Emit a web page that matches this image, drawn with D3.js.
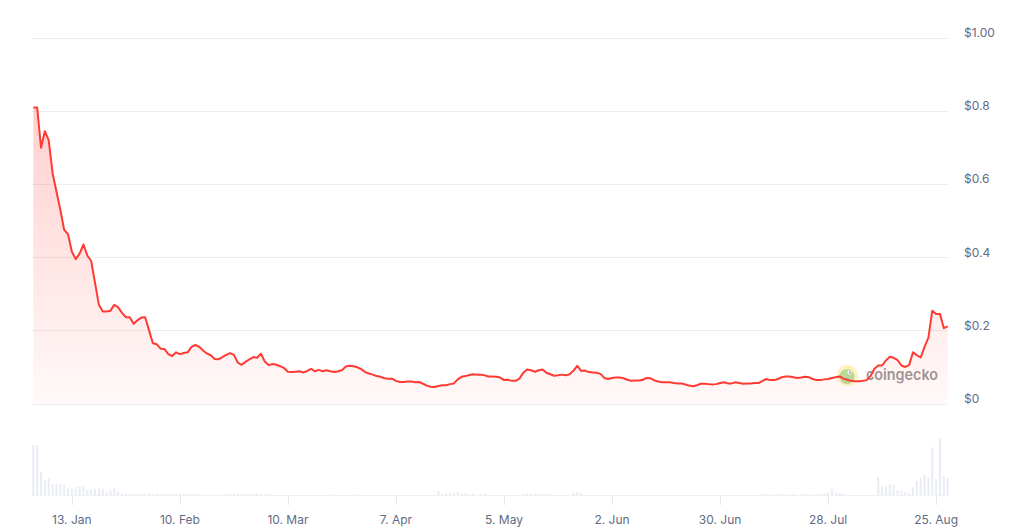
<!DOCTYPE html>
<html>
<head>
<meta charset="utf-8">
<script src="https://cdn.jsdelivr.net/npm/d3@7"></script>
<style>
  html, body { margin: 0; padding: 0; background: #ffffff; }
  svg { display: block; font-family: Inter, "Noto Sans", sans-serif; }
</style>
</head>
<body>
<svg id="chart" width="1024" height="531"></svg>
<script>
// ---- data ----
const startDate = "2025-01-03";   // first daily point
const endDate = "2025-08-28";     // last daily point
const prices = [
  0.81, 0.81, 0.70, 0.745, 0.72, 0.63, 0.58, 0.53, 0.475, 0.463,
  0.415, 0.395, 0.41, 0.435, 0.405, 0.39, 0.33, 0.27, 0.252, 0.252,
  0.254, 0.27, 0.263, 0.248, 0.236, 0.236, 0.218, 0.228, 0.235, 0.236,
  0.20, 0.165, 0.162, 0.150, 0.149, 0.135, 0.130, 0.140, 0.135, 0.138,
  0.140, 0.155, 0.160, 0.155, 0.145, 0.137, 0.132, 0.122, 0.121, 0.127,
  0.133, 0.138, 0.133, 0.112, 0.106, 0.114, 0.121, 0.127, 0.125, 0.136,
  0.115, 0.105, 0.108, 0.106, 0.102, 0.097, 0.087, 0.086, 0.087, 0.088,
  0.085, 0.089, 0.095, 0.088, 0.092, 0.088, 0.091, 0.088, 0.086, 0.088,
  0.091, 0.101, 0.103, 0.102, 0.099, 0.094, 0.086, 0.082, 0.079, 0.075,
  0.073, 0.069, 0.068, 0.068, 0.062, 0.059, 0.059, 0.060, 0.060, 0.058,
  0.059, 0.054, 0.049, 0.046, 0.045, 0.048, 0.050, 0.050, 0.053, 0.055,
  0.066, 0.073, 0.075, 0.078, 0.080, 0.079, 0.079, 0.077, 0.074, 0.074,
  0.073, 0.071, 0.064, 0.065, 0.062, 0.062, 0.068, 0.084, 0.093, 0.091,
  0.087, 0.091, 0.093, 0.084, 0.080, 0.076, 0.077, 0.079, 0.077, 0.080,
  0.090, 0.103, 0.089, 0.090, 0.086, 0.085, 0.084, 0.081, 0.070, 0.067,
  0.070, 0.071, 0.071, 0.069, 0.065, 0.062, 0.063, 0.063, 0.065, 0.070,
  0.069, 0.063, 0.060, 0.058, 0.058, 0.058, 0.056, 0.055, 0.055, 0.052,
  0.049, 0.047, 0.050, 0.054, 0.054, 0.053, 0.052, 0.053, 0.056, 0.058,
  0.055, 0.055, 0.058, 0.056, 0.054, 0.055, 0.055, 0.056, 0.056, 0.062,
  0.067, 0.064, 0.064, 0.067, 0.072, 0.074, 0.074, 0.072, 0.070, 0.071,
  0.073, 0.072, 0.067, 0.064, 0.064, 0.066, 0.067, 0.070, 0.072, 0.074,
  0.068, 0.065, 0.062, 0.061, 0.061, 0.062, 0.064, 0.075, 0.095, 0.104,
  0.104, 0.118, 0.128, 0.125, 0.119, 0.104, 0.100, 0.105, 0.140, 0.132,
  0.126, 0.155, 0.180, 0.254, 0.245, 0.245, 0.206, 0.211
];
const volumes = [
  500, 500, 233, 150, 173, 110, 110, 110, 100, 67,
  67, 83, 83, 90, 50, 57, 63, 67, 57, 33,
  50, 67, 33, 15, 12, 15, 12, 15, 12, 15,
  18, 12, 15, 12, 15, 12, 10, 12, 15, 15,
  12, 15, 12, 10, 3, 0, 3, 0, 3, 0,
  12, 12, 15, 12, 12, 15, 12, 12, 15, 12,
  10, 12, 0, 0, 0, 0, 0, 0, 0, 0,
  0, 0, 0, 0, 0, 0, 0, 8, 0, 0,
  0, 0, 0, 8, 0, 0, 0, 0, 0, 0,
  0, 0, 0, 0, 0, 0, 0, 0, 0, 0,
  0, 0, 0, 0, 0, 40, 10, 20, 15, 25,
  30, 15, 20, 10, 15, 0, 10, 15, 0, 0,
  0, 0, 0, 0, 0, 0, 0, 12, 15, 12,
  15, 12, 15, 12, 10, 0, 0, 0, 0, 0,
  25, 30, 25, 0, 0, 0, 0, 0, 0, 0,
  0, 0, 0, 0, 0, 0, 0, 0, 0, 0,
  0, 0, 0, 0, 0, 0, 0, 0, 0, 0,
  0, 0, 0, 0, 0, 0, 0, 0, 0, 0,
  0, 0, 0, 0, 0, 0, 0, 0, 0, 8,
  10, 8, 0, 8, 10, 0, 8, 10, 0, 8,
  10, 8, 0, 5, 15, 20, 30, 57, 25, 20,
  15, 0, 0, 0, 0, 0, 0, 0, 0, 180,
  83, 90, 110, 100, 50, 40, 27, 17, 77, 143,
  167, 200, 167, 477, 157, 567, 190, 167
];
const yTicks = [0, 0.2, 0.4, 0.6, 0.8, 1.0];
const yTickLabels = ["$0", "$0.2", "$0.4", "$0.6", "$0.8", "$1.00"];
const xTicks = ["2025-01-13", "2025-02-10", "2025-03-10", "2025-04-07", "2025-05-05",
                "2025-06-02", "2025-06-30", "2025-07-28", "2025-08-25"];
const xTickLabels = ["13. Jan", "10. Feb", "10. Mar", "7. Apr", "5. May",
                     "2. Jun", "30. Jun", "28. Jul", "25. Aug"];

// ---- chart ----
const svg = d3.select("#chart");
const parse = d3.utcParse("%Y-%m-%d");
const t0 = parse(startDate), t1 = parse(endDate);
const series = prices.map((p, i) => ({ date: d3.utcDay.offset(t0, i), price: p, vol: volumes[i] || 0 }));

const x = d3.scaleUtc().domain([t0, t1]).range([33.3, 947.7]);
const y = d3.scaleLinear().domain([0, 1]).range([403.5, 38]);
const yv = d3.scaleLinear().domain([0, 600]).range([495, 435]);

const labelColor = "#5f6b84";

// gradient
const defs = svg.append("defs");
const grad = defs.append("linearGradient").attr("id", "areaGrad")
  .attr("gradientUnits", "userSpaceOnUse")
  .attr("x1", 0).attr("x2", 0).attr("y1", y(0.82)).attr("y2", y(0));
grad.append("stop").attr("offset", 0).attr("stop-color", "rgb(255,58,51)").attr("stop-opacity", 0.24);
grad.append("stop").attr("offset", 1).attr("stop-color", "rgb(255,58,51)").attr("stop-opacity", 0.03);

// grid
svg.append("g").selectAll("line").data(yTicks).join("line")
  .attr("x1", 32).attr("x2", 948)
  .attr("y1", d => Math.round(y(d)) + 0.5).attr("y2", d => Math.round(y(d)) + 0.5)
  .attr("stroke", "#eeeeee").attr("stroke-width", 1);

// y labels
svg.append("g").selectAll("text").data(yTicks).join("text")
  .attr("x", 964).attr("y", d => y(d) - 4)
  .attr("dominant-baseline", "middle")
  .attr("font-size", 12).attr("fill", labelColor)
  .text((d, i) => yTickLabels[i]);

// volume bars
svg.append("g").selectAll("rect").data(series.filter(d => d.vol > 0)).join("rect")
  .attr("x", d => x(d.date) - 1).attr("width", 2)
  .attr("y", d => yv(d.vol)).attr("height", d => yv(0) - yv(d.vol))
  .attr("fill", "#e9ecf3");

// x axis baseline
svg.append("line").attr("x1", 32).attr("x2", 948).attr("y1", 495.5).attr("y2", 495.5)
  .attr("stroke", "#f0f1f4");

// x ticks
const xt = svg.append("g");
xt.selectAll("line").data(xTicks).join("line")
  .attr("x1", d => Math.round(x(parse(d))) + 0.5).attr("x2", d => Math.round(x(parse(d))) + 0.5)
  .attr("y1", 495).attr("y2", 505).attr("stroke", "#e6e8ee");
xt.selectAll("text").data(xTicks).join("text")
  .attr("x", d => x(parse(d))).attr("y", 521)
  .attr("text-anchor", "middle").attr("dominant-baseline", "middle")
  .attr("font-size", 12).attr("fill", labelColor)
  .text((d, i) => xTickLabels[i]);

// watermark
const wm = svg.append("g").attr("opacity", 0.6);
wm.append("circle").attr("cx", 847.5).attr("cy", 375.5).attr("r", 10.5).attr("fill", "#fbe37a").attr("opacity", 0.8);
wm.append("circle").attr("cx", 847).attr("cy", 376.5).attr("r", 7.5).attr("fill", "#8cc152");
wm.append("circle").attr("cx", 849.5).attr("cy", 372.5).attr("r", 2).attr("fill", "#ffffff");
wm.append("circle").attr("cx", 849.8).attr("cy", 372.5).attr("r", 0.9).attr("fill", "#333");
wm.append("text").attr("x", 866).attr("y", 376).attr("dominant-baseline", "middle")
  .attr("font-size", 15).attr("font-weight", 600).attr("fill", "#555555")
  .attr("textLength", 72).attr("lengthAdjust", "spacingAndGlyphs")
  .text("coingecko");

// area + line
const area = d3.area().x(d => x(d.date)).y0(y(0)).y1(d => y(d.price));
const line = d3.line().x(d => x(d.date)).y(d => y(d.price));
svg.append("path").datum(series).attr("d", area).attr("fill", "url(#areaGrad)");
svg.append("path").datum(series).attr("d", line)
  .attr("fill", "none").attr("stroke", "#ff3a33").attr("stroke-width", 2)
  .attr("stroke-linejoin", "round");
</script>
</body>
</html>
